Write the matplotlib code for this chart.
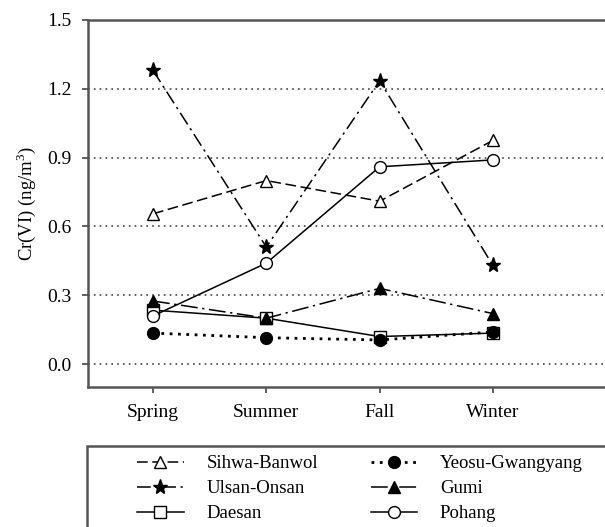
import numpy as np
import matplotlib as mpl
mpl.use("Agg")
import matplotlib.pyplot as plt
from matplotlib.patches import Rectangle

plt.rcParams['font.family'] = ['Liberation Serif', 'DejaVu Serif']
plt.rcParams['mathtext.fontset'] = 'custom'
plt.rcParams['mathtext.rm'] = 'Liberation Serif'

seasons = ["Spring", "Summer", "Fall", "Winter"]
sihwa = [0.655, 0.80, 0.71, 0.975]
ulsan = [1.28, 0.51, 1.235, 0.43]
daesan = [0.235, 0.20, 0.12, 0.135]
yeosu = [0.135, 0.115, 0.105, 0.14]
gumi = [0.275, 0.20, 0.33, 0.22]
pohang = [0.21, 0.44, 0.86, 0.89]

x = np.arange(len(seasons))

fig = plt.figure(figsize=(6.05, 5.27), dpi=100)
# axes runs past the right edge of the picture, as in the cropped original
ax = fig.add_axes([88/605, 140/527, 540/605, 367/527])

lw = 1.1
ms = 8.5
series = [
    ("Sihwa-Banwol", sihwa, dict(ls=(0, (7, 3)), marker='^', mfc='white')),
    ("Ulsan-Onsan", ulsan, dict(ls=(0, (9, 3, 1.5, 3)), marker='*', mfc='black', ms=11)),
    ("Daesan", daesan, dict(ls='-', marker='s', mfc='white')),
    ("Yeosu-Gwangyang", yeosu, dict(ls=(0, (1, 2)), marker='o', mfc='black', lw=2.0)),
    ("Gumi", gumi, dict(ls=(0, (11, 3, 1.5, 3)), marker='^', mfc='black')),
    ("Pohang", pohang, dict(ls='-', marker='o', mfc='white')),
]
for name, vals, st in series:
    kw = dict(color='black', mec='black', lw=lw, ms=ms, mew=1.0)
    kw.update(st)
    ax.plot(x, vals, label=name, **kw)

for yv in [0.0, 0.3, 0.6, 0.9, 1.2]:
    ax.axhline(yv, color='#444444', ls=(0, (1, 2.5)), lw=1.2, zorder=0)

ax.set_ylim(-0.1, 1.5)
ax.set_xlim(-0.574, -0.574 + 540/113.3)
ax.set_yticks([0.0, 0.3, 0.6, 0.9, 1.2, 1.5])
ax.set_yticklabels(["0.0", "0.3", "0.6", "0.9", "1.2", "1.5"])
ax.set_xticks(x)
ax.set_xticklabels(seasons)
ax.tick_params(axis='both', labelsize=14, color='#444444', width=1.2, length=4)
ax.tick_params(axis='x', pad=8)
ax.tick_params(axis='y', pad=8)
ax.spines['right'].set_visible(False)
for s in ['left', 'top', 'bottom']:
    ax.spines[s].set_color('#555555')
    ax.spines[s].set_linewidth(1.8)
ax.set_ylabel("Cr(VI) (ng/m$^3$)", fontsize=13.5, labelpad=6)

# legend box, also cropped by the picture edge
fig.patches.append(Rectangle((87/605, -0.1), 1.0, (527-446)/527 + 0.1,
                             transform=fig.transFigure, fill=False,
                             edgecolor='#555555', lw=1.8))
handles, labels = ax.get_legend_handles_labels()
fig.legend(handles, labels, ncol=2, loc='upper left',
           bbox_to_anchor=(137/605, 1 - 455/527), frameon=False,
           fontsize=13.5, handlelength=2.5, columnspacing=2.8,
           labelspacing=0.42, handletextpad=1.2, borderpad=0,
           borderaxespad=0)

fig.savefig("out.png", dpi=100)
